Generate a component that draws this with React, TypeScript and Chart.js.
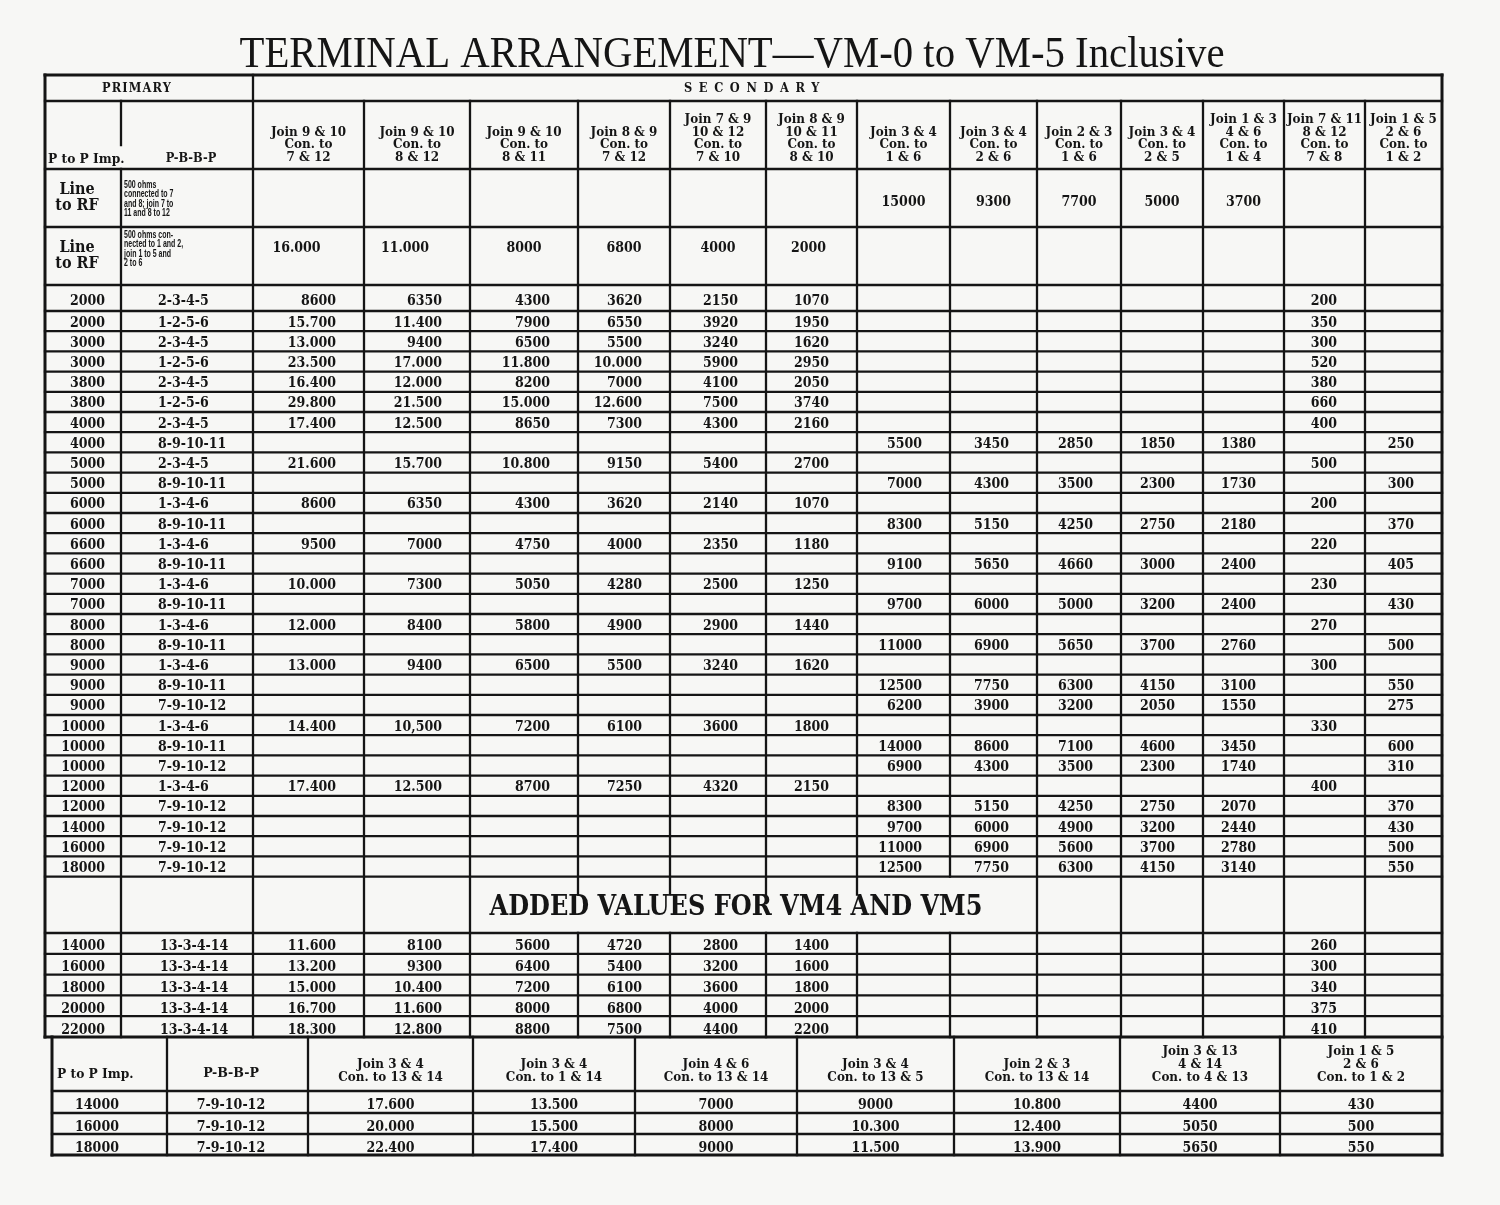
import React, { useEffect, useRef } from 'react';
import { Chart, registerables } from 'chart.js';

Chart.register(...registerables);

// ---------------- DATA ----------------
const TITLE = 'TERMINAL ARRANGEMENT\u2014VM-0 to VM-5 Inclusive';
const ADDED_TITLE = 'ADDED VALUES FOR VM4 AND VM5';
const PRIMARY_LABEL = 'PRIMARY';
const SECONDARY_LABEL = 'SECONDARY';
const IMP_LABEL = 'P to P Imp.';
const PBBP_LABEL = 'P-B-B-P';

const SEC_HEADERS: string[][] = [
  ['Join 9 & 10', 'Con. to', '7 & 12'],
  ['Join 9 & 10', 'Con. to', '8 & 12'],
  ['Join 9 & 10', 'Con. to', '8 & 11'],
  ['Join 8 & 9', 'Con. to', '7 & 12'],
  ['Join 7 & 9', '10 & 12', 'Con. to', '7 & 10'],
  ['Join 8 & 9', '10 & 11', 'Con. to', '8 & 10'],
  ['Join 3 & 4', 'Con. to', '1 & 6'],
  ['Join 3 & 4', 'Con. to', '2 & 6'],
  ['Join 2 & 3', 'Con. to', '1 & 6'],
  ['Join 3 & 4', 'Con. to', '2 & 5'],
  ['Join 1 & 3', '4 & 6', 'Con. to', '1 & 4'],
  ['Join 7 & 11', '8 & 12', 'Con. to', '7 & 8'],
  ['Join 1 & 5', '2 & 6', 'Con. to', '1 & 2'],
];

const LRF_LABEL = ['Line', 'to RF'];
const LRF1_DESC = ['500 ohms', 'connected to 7', 'and 8; join 7 to', '11 and 8 to 12'];
const LRF2_DESC = ['500 ohms con-', 'nected to 1 and 2,', 'join 1 to 5 and', '2 to 6'];
const LRF1_VALUES = ['', '', '', '', '', '', '15000', '9300', '7700', '5000', '3700', '', ''];
const LRF2_VALUES = ['16.000', '11.000', '8000', '6800', '4000', '2000', '', '', '', '', '', '', ''];

const PRI_IMP = ['2000', '2000', '3000', '3000', '3800', '3800', '4000', '4000', '5000', '5000',
  '6000', '6000', '6600', '6600', '7000', '7000', '8000', '8000', '9000', '9000', '9000',
  '10000', '10000', '10000', '12000', '12000', '14000', '16000', '18000'];
const PRI_PBBP = ['2-3-4-5', '1-2-5-6', '2-3-4-5', '1-2-5-6', '2-3-4-5', '1-2-5-6', '2-3-4-5',
  '8-9-10-11', '2-3-4-5', '8-9-10-11', '1-3-4-6', '8-9-10-11', '1-3-4-6', '8-9-10-11',
  '1-3-4-6', '8-9-10-11', '1-3-4-6', '8-9-10-11', '1-3-4-6', '8-9-10-11', '7-9-10-12',
  '1-3-4-6', '8-9-10-11', '7-9-10-12', '1-3-4-6', '7-9-10-12', '7-9-10-12', '7-9-10-12', '7-9-10-12'];

const SEC_C1 = ['8600', '15.700', '13.000', '23.500', '16.400', '29.800', '17.400', '', '21.600', '', '8600', '', '9500', '', '10.000', '', '12.000', '', '13.000', '', '', '14.400', '', '', '17.400', '', '', '', ''];
const SEC_C2 = ['6350', '11.400', '9400', '17.000', '12.000', '21.500', '12.500', '', '15.700', '', '6350', '', '7000', '', '7300', '', '8400', '', '9400', '', '', '10,500', '', '', '12.500', '', '', '', ''];
const SEC_C3 = ['4300', '7900', '6500', '11.800', '8200', '15.000', '8650', '', '10.800', '', '4300', '', '4750', '', '5050', '', '5800', '', '6500', '', '', '7200', '', '', '8700', '', '', '', ''];
const SEC_C4 = ['3620', '6550', '5500', '10.000', '7000', '12.600', '7300', '', '9150', '', '3620', '', '4000', '', '4280', '', '4900', '', '5500', '', '', '6100', '', '', '7250', '', '', '', ''];
const SEC_C5 = ['2150', '3920', '3240', '5900', '4100', '7500', '4300', '', '5400', '', '2140', '', '2350', '', '2500', '', '2900', '', '3240', '', '', '3600', '', '', '4320', '', '', '', ''];
const SEC_C6 = ['1070', '1950', '1620', '2950', '2050', '3740', '2160', '', '2700', '', '1070', '', '1180', '', '1250', '', '1440', '', '1620', '', '', '1800', '', '', '2150', '', '', '', ''];
const SEC_C7 = ['', '', '', '', '', '', '', '5500', '', '7000', '', '8300', '', '9100', '', '9700', '', '11000', '', '12500', '6200', '', '14000', '6900', '', '8300', '9700', '11000', '12500'];
const SEC_C8 = ['', '', '', '', '', '', '', '3450', '', '4300', '', '5150', '', '5650', '', '6000', '', '6900', '', '7750', '3900', '', '8600', '4300', '', '5150', '6000', '6900', '7750'];
const SEC_C9 = ['', '', '', '', '', '', '', '2850', '', '3500', '', '4250', '', '4660', '', '5000', '', '5650', '', '6300', '3200', '', '7100', '3500', '', '4250', '4900', '5600', '6300'];
const SEC_C10 = ['', '', '', '', '', '', '', '1850', '', '2300', '', '2750', '', '3000', '', '3200', '', '3700', '', '4150', '2050', '', '4600', '2300', '', '2750', '3200', '3700', '4150'];
const SEC_C11 = ['', '', '', '', '', '', '', '1380', '', '1730', '', '2180', '', '2400', '', '2400', '', '2760', '', '3100', '1550', '', '3450', '1740', '', '2070', '2440', '2780', '3140'];
const SEC_C12 = ['200', '350', '300', '520', '380', '660', '400', '', '500', '', '200', '', '220', '', '230', '', '270', '', '300', '', '', '330', '', '', '400', '', '', '', ''];
const SEC_C13 = ['', '', '', '', '', '', '', '250', '', '300', '', '370', '', '405', '', '430', '', '500', '', '550', '275', '', '600', '310', '', '370', '430', '500', '550'];

const ADD_IMP = ['14000', '16000', '18000', '20000', '22000'];
const ADD_PBBP = ['13-3-4-14', '13-3-4-14', '13-3-4-14', '13-3-4-14', '13-3-4-14'];
const ADD_C1 = ['11.600', '13.200', '15.000', '16.700', '18.300'];
const ADD_C2 = ['8100', '9300', '10.400', '11.600', '12.800'];
const ADD_C3 = ['5600', '6400', '7200', '8000', '8800'];
const ADD_C4 = ['4720', '5400', '6100', '6800', '7500'];
const ADD_C5 = ['2800', '3200', '3600', '4000', '4400'];
const ADD_C6 = ['1400', '1600', '1800', '2000', '2200'];
const ADD_C12 = ['260', '300', '340', '375', '410'];

const VM_HEADERS: string[][] = [
  ['Join 3 & 4', 'Con. to 13 & 14'],
  ['Join 3 & 4', 'Con. to 1 & 14'],
  ['Join 4 & 6', 'Con. to 13 & 14'],
  ['Join 3 & 4', 'Con. to 13 & 5'],
  ['Join 2 & 3', 'Con. to 13 & 14'],
  ['Join 3 & 13', '4 & 14', 'Con. to 4 & 13'],
  ['Join 1 & 5', '2 & 6', 'Con. to 1 & 2'],
];
const VM_IMP = ['14000', '16000', '18000'];
const VM_PBBP = ['7-9-10-12', '7-9-10-12', '7-9-10-12'];
const VM_C1 = ['17.600', '20.000', '22.400'];
const VM_C2 = ['13.500', '15.500', '17.400'];
const VM_C3 = ['7000', '8000', '9000'];
const VM_C4 = ['9000', '10.300', '11.500'];
const VM_C5 = ['10.800', '12.400', '13.900'];
const VM_C6 = ['4400', '5050', '5650'];
const VM_C7 = ['430', '500', '550'];

// ---------------- LAYOUT ----------------
const W = 1500;
const H = 1205;
const BG = '#f7f7f5';
const INK = '#151515';
const XE = [45, 121, 253, 364, 470, 578, 670, 766, 857, 950, 1037, 1121, 1203, 1284, 1365, 1442];
const BX = [52, 167, 308, 473, 635, 797, 954, 1120, 1280, 1442];
const Y_TOP = 75, Y_H1 = 101, Y_H2 = 169, Y_L1 = 227, Y_L2 = 285, Y_R1 = 311, ROW_H = 20.2;
const Y_ADD_TOP = 933, ADD_H = 20.8;
const Y_VM_TOP = 1037, Y_VM_HDR = 1091;
const VM_ROWS = [1091, 1113, 1134, 1155];
const PAD_R = 28;
const LRF_SHIFT = [-12, -12, 0, 0, 0, -3, 0, 0, 0, 0, 0, 0, 0];
const SERIF = "'DejaVu Serif'";

type Mark = { x: number; y: number; t: string; fs: number; ff: string; w: string; al: CanvasTextAlign; sx?: number; fit?: number; ls?: number; };
type Seg = { x1: number; y1: number; x2: number; y2: number; lw: number };

function buildMarks(): Mark[] {
  const m: Mark[] = [];
  const add = (x: number, y: number, t: string, fs: number, ff: string, w: string, al: CanvasTextAlign, extra: Partial<Mark> = {}) => {
    if (t) m.push({ x, y, t, fs, ff, w, al, ...extra });
  };
  const num = (x: number, y: number, t: string, al: CanvasTextAlign) => add(x, y, t, 15, SERIF, 'bold', al, { sx: 0.84 });
  const head = (x: number, y: number, t: string) => add(x, y, t, 13, SERIF, 'bold', 'center', { sx: 0.92 });

  add(732, 51, TITLE, 45, "'Liberation Serif'", 'normal', 'center', { fit: 985 });
  add(137, 88, PRIMARY_LABEL, 12, SERIF, 'bold', 'center', { ls: 1.2, sx: 0.95 });
  add(755, 88, SECONDARY_LABEL, 12, SERIF, 'bold', 'center', { ls: 7, sx: 0.95 });
  add(48, 158, IMP_LABEL, 12.5, SERIF, 'bold', 'left', { sx: 0.98 });
  add(191, 158, PBBP_LABEL, 12, SERIF, 'bold', 'center', { sx: 0.95 });

  SEC_HEADERS.forEach((lines, c) => {
    const cx = (XE[c + 2] + XE[c + 3]) / 2;
    lines.forEach((ln, k) => head(cx, 156.5 - (lines.length - 1 - k) * 12.8, ln));
  });

  // Line to RF rows
  const lrfRows = [
    { top: Y_H2, bot: Y_L1, desc: LRF1_DESC, vals: LRF1_VALUES, vy: 201, dy: 184 },
    { top: Y_L1, bot: Y_L2, desc: LRF2_DESC, vals: LRF2_VALUES, vy: 247, dy: 234 },
  ];
  lrfRows.forEach((r) => {
    const cy = (r.top + r.bot) / 2;
    LRF_LABEL.forEach((ln, k) => add(77, cy - 10 + k * 16, ln, 16, SERIF, 'bold', 'center', { sx: 0.9 }));
    r.desc.forEach((ln, k) => add(XE[1] + 3, r.dy + k * 9.6, ln, 10, "'Liberation Sans'", 'bold', 'left', { sx: 0.7 }));
    r.vals.forEach((v, c) => num((XE[c + 2] + XE[c + 3]) / 2 + LRF_SHIFT[c], r.vy, v, 'center'));
  });

  const SEC_COLUMNS = [SEC_C1, SEC_C2, SEC_C3, SEC_C4, SEC_C5, SEC_C6, SEC_C7, SEC_C8, SEC_C9, SEC_C10, SEC_C11, SEC_C12, SEC_C13];
  PRI_IMP.forEach((imp, i) => {
    const top = i === 0 ? Y_L2 : Y_R1 + (i - 1) * ROW_H;
    const bot = Y_R1 + i * ROW_H;
    const cy = (top + bot) / 2 + (i === 0 ? 1.5 : 0);
    num(105, cy, imp, 'right');
    num(158, cy, PRI_PBBP[i], 'left');
    SEC_COLUMNS.forEach((col, c) => num(XE[c + 3] - PAD_R, cy, col[i], 'right'));
  });

  const yDataEnd = Y_R1 + (PRI_IMP.length - 1) * ROW_H;
  add(736, (yDataEnd + Y_ADD_TOP) / 2 + 0.5, ADDED_TITLE, 27, SERIF, 'bold', 'center', { fit: 493 });

  const ADD_COLUMNS: string[][] = [ADD_C1, ADD_C2, ADD_C3, ADD_C4, ADD_C5, ADD_C6, [], [], [], [], [], ADD_C12, []];
  ADD_IMP.forEach((imp, i) => {
    const cy = Y_ADD_TOP + (i + 0.5) * ADD_H + 1.5;
    num(105, cy, imp, 'right');
    num(160, cy, ADD_PBBP[i], 'left');
    ADD_COLUMNS.forEach((col, c) => num(XE[c + 3] - PAD_R, cy, col[i] || '', 'right'));
  });

  // bottom table
  add(57, 1073, IMP_LABEL, 12.5, SERIF, 'bold', 'left', { sx: 0.98 });
  add(231, 1073, PBBP_LABEL, 12, SERIF, 'bold', 'center', { sx: 1.05 });
  VM_HEADERS.forEach((lines, c) => {
    const cx = (BX[c + 2] + BX[c + 3]) / 2;
    lines.forEach((ln, k) => head(cx, 1076 - (lines.length - 1 - k) * 13, ln));
  });
  const VM_COLUMNS = [VM_C1, VM_C2, VM_C3, VM_C4, VM_C5, VM_C6, VM_C7];
  VM_IMP.forEach((imp, i) => {
    const cy = (VM_ROWS[i] + VM_ROWS[i + 1]) / 2 + 2;
    num(97, cy, imp, 'center');
    num(231, cy, VM_PBBP[i], 'center');
    VM_COLUMNS.forEach((col, c) => num((BX[c + 2] + BX[c + 3]) / 2, cy, col[i], 'center'));
  });
  return m;
}

function buildRules(): Seg[] {
  const out: Seg[] = [];
  const seg = (x1: number, y1: number, x2: number, y2: number, lw = 2.3) => out.push({ x1, y1, x2, y2, lw });
  const L = XE[0], R = XE[XE.length - 1];
  const yDataEnd = Y_R1 + (PRI_IMP.length - 1) * ROW_H;
  // horizontal rules of main table
  const hs = [Y_H1, Y_H2, Y_L1, Y_L2];
  for (let i = 0; i < PRI_IMP.length; i++) hs.push(Y_R1 + i * ROW_H);
  for (let i = 0; i < ADD_IMP.length; i++) hs.push(Y_ADD_TOP + i * ADD_H);
  hs.forEach((y) => seg(L, y, R, y));
  // verticals
  seg(XE[2], Y_TOP, XE[2], Y_VM_TOP);
  seg(XE[1], Y_H1, XE[1], 145);
  seg(XE[1], Y_H2, XE[1], Y_VM_TOP);
  for (let k = 3; k < XE.length - 1; k++) {
    if (k <= 4 || k >= 10) {
      seg(XE[k], Y_H1, XE[k], Y_VM_TOP);
    } else if (k <= 8) {
      seg(XE[k], Y_H1, XE[k], yDataEnd + 18);
      seg(XE[k], Y_ADD_TOP, XE[k], Y_VM_TOP);
    } else {
      seg(XE[k], Y_H1, XE[k], yDataEnd);
      seg(XE[k], Y_ADD_TOP, XE[k], Y_VM_TOP);
    }
  }
  // bottom table
  seg(BX[0], Y_VM_HDR, R, Y_VM_HDR);
  seg(BX[0], VM_ROWS[1], R, VM_ROWS[1]);
  seg(BX[0], VM_ROWS[2], R, VM_ROWS[2]);
  for (let k = 1; k < BX.length - 1; k++) seg(BX[k], Y_VM_TOP, BX[k], VM_ROWS[3]);
  // outer border
  seg(L, Y_TOP, R, Y_TOP, 3);
  seg(L, Y_TOP, L, Y_VM_TOP, 3);
  seg(R, Y_TOP, R, VM_ROWS[3], 3);
  seg(BX[0], Y_VM_TOP, BX[0], VM_ROWS[3], 3);
  seg(BX[0], VM_ROWS[3], R, VM_ROWS[3], 3);
  seg(L, Y_VM_TOP, R, Y_VM_TOP, 3);
  return out;
}

const bgPlugin = {
  id: 'scanBg',
  beforeDraw(chart: any) {
    const ctx = chart.ctx;
    ctx.save();
    ctx.fillStyle = BG;
    ctx.fillRect(0, 0, chart.width, chart.height);
    ctx.restore();
  },
};

const textPlugin = {
  id: 'tableText',
  afterDatasetsDraw(chart: any) {
    const ctx: CanvasRenderingContext2D = chart.ctx;
    chart.data.datasets.forEach((ds: any, di: number) => {
      if (ds.label !== 'text') return;
      const meta = chart.getDatasetMeta(di);
      meta.data.forEach((el: any, i: number) => {
        const mk = ds.data[i] as Mark;
        ctx.save();
        ctx.font = `${mk.w} ${mk.fs}px ${mk.ff}`;
        ctx.fillStyle = INK;
        ctx.textAlign = mk.al;
        ctx.textBaseline = 'alphabetic';
        if (mk.ls) (ctx as any).letterSpacing = mk.ls + 'px';
        let sx = mk.sx ?? 1;
        if (mk.fit) sx = mk.fit / ctx.measureText(mk.t).width;
        ctx.translate(el.x, el.y + mk.fs * 0.36);
        ctx.scale(sx, 1);
        ctx.fillText(mk.t, 0, 0);
        ctx.restore();
      });
    });
  },
};

export default function App() {
  const ref = useRef<HTMLCanvasElement>(null);
  useEffect(() => {
    const marks = buildMarks();
    const rules = buildRules();
    const ruleSets = rules.map((s, i) => ({
      label: 'rule' + i,
      data: [{ x: s.x1, y: s.y1 }, { x: s.x2, y: s.y2 }],
      showLine: true,
      borderColor: INK,
      borderWidth: s.lw,
      pointRadius: 0,
      borderCapStyle: 'square',
    }));
    const chart = new Chart(ref.current!, {
      type: 'scatter',
      data: {
        datasets: [
          ...(ruleSets as any[]),
          { label: 'text', data: marks, pointRadius: 0, showLine: false } as any,
        ],
      },
      options: {
        animation: false,
        responsive: false,
        devicePixelRatio: 1,
        events: [],
        layout: { padding: 0 },
        plugins: { legend: { display: false }, tooltip: { enabled: false } },
        scales: {
          x: { type: 'linear', min: 0, max: W, display: false },
          y: { type: 'linear', min: 0, max: H, reverse: true, display: false },
        },
      },
      plugins: [bgPlugin, textPlugin],
    });
    return () => chart.destroy();
  }, []);
  return (
    <div style={{ position: 'absolute', left: 0, top: 0, width: W, height: H, background: BG }}>
      <canvas ref={ref} width={W} height={H} style={{ display: 'block', width: W, height: H }} />
    </div>
  );
}
